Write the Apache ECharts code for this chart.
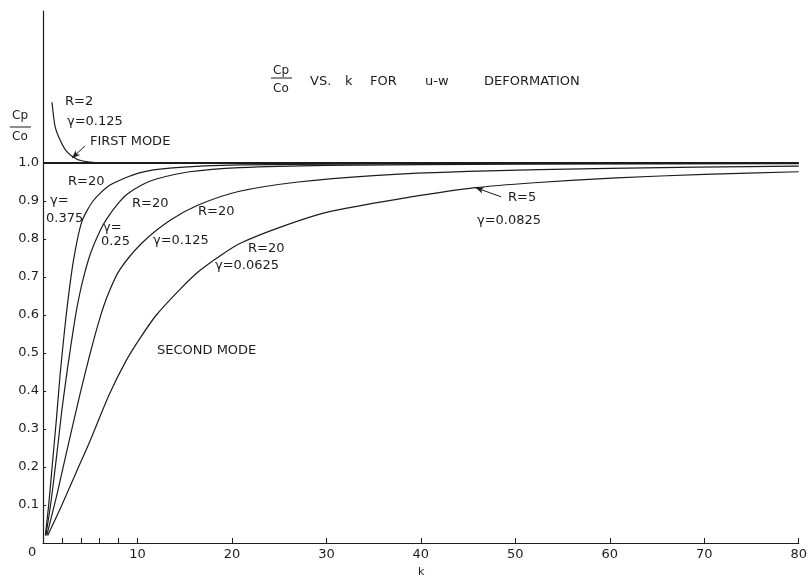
<!DOCTYPE html>
<html>
<head>
<meta charset="utf-8">
<script src="https://cdn.jsdelivr.net/npm/echarts@6/dist/echarts.min.js"></script>
<style>
  html, body { margin: 0; padding: 0; background: #fff; }
  #chart { width: 810px; height: 579px; }
</style>
</head>
<body>
<div id="chart"></div>
<script>
// axis ticks
const kTickValues = [0, 2, 4, 6, 8, 10, 20, 30, 40, 50, 60, 70, 80];
const kLabelValues = [10, 20, 30, 40, 50, 60, 70, 80];
const ratioTicks = [0.1, 0.2, 0.3, 0.4, 0.5, 0.6, 0.7, 0.8, 0.9, 1.0];

// curves, [k, Cp/Co]
const firstModeR2 = [[0.95, 1.16], [1.29, 1.095], [1.82, 1.06], [2.52, 1.03], [3.58, 1.01], [4.76, 1.003], [6, 1.0]];
const unityLine = [[0, 1.0], [80, 1.0]];
const r20g0375 = [[0.25, 0.02], [0.6, 0.1], [1, 0.21], [1.4, 0.32], [1.8, 0.44], [2.2, 0.54], [2.6, 0.63], [3.2, 0.74],
  [4.1, 0.845], [5.3, 0.9], [7.1, 0.942], [10.2, 0.974], [13.7, 0.987], [20.8, 0.995], [40, 0.998], [80, 0.999]];
const r20g025 = [[0.3, 0.02], [0.8, 0.1], [1.4, 0.22], [2, 0.35], [2.6, 0.46], [3.2, 0.56], [3.6, 0.62], [4.2, 0.69],
  [5, 0.76], [6, 0.82], [6.8, 0.855], [8, 0.895], [8.9, 0.918], [10.5, 0.943], [12, 0.958], [15.5, 0.977],
  [20.8, 0.988], [30, 0.994], [50, 0.997], [80, 0.998]];
const r20g0125 = [[0.4, 0.02], [1.5, 0.13], [2.5, 0.24], [3.9, 0.39], [5, 0.5], [6, 0.59], [6.9, 0.655], [8.1, 0.718],
  [10.5, 0.79], [13.5, 0.85], [16.5, 0.89], [20.7, 0.925], [27, 0.95], [35, 0.967], [45, 0.978], [60, 0.986], [80, 0.992]];
const r20g00625 = [[0.5, 0.02], [2, 0.1], [3.5, 0.185], [5, 0.27], [7, 0.39], [8.8, 0.48], [10.3, 0.54], [12, 0.6],
  [14.4, 0.665], [16.5, 0.715], [19, 0.76], [21, 0.79], [25, 0.83], [30, 0.87], [37.6, 0.905], [45.8, 0.935],
  [52, 0.948], [60.7, 0.961], [70, 0.97], [80, 0.977]];

// leader arrows, data coords
const firstModeArrow = [[4.45, 1.045], [3.08, 1.013]];
const r5Arrow = [[48.5, 0.911], [45.8, 0.935]];

const ink = '#1c1c1c';
const font = 'DejaVu Sans';

const chart = echarts.init(document.getElementById('chart'), null, { renderer: 'canvas' });

function curve(name, data, width, extra) {
  return Object.assign({
    name,
    type: 'line',
    data,
    smooth: 0.25,
    symbol: 'none',
    lineStyle: { color: ink, width: width },
    silent: true,
  }, extra || {});
}

function arrow(pts) {
  return {
    silent: true,
    symbol: ['none', 'arrow'],
    symbolSize: [5, 8],
    label: { show: false },
    lineStyle: { color: ink, width: 1, type: 'solid' },
    data: [[{ coord: pts[0] }, { coord: pts[1] }]],
  };
}

function txt(x, y, text, size) {
  return {
    type: 'text', left: x, top: y - (size || 13) / 2 - 1,
    style: { text, fill: ink, font: (size || 13) + 'px "' + font + '"' },
  };
}

const option = {
  backgroundColor: '#fff',
  animation: false,
  grid: { left: 43, right: 7, top: 11, bottom: 36 },
  xAxis: {
    type: 'value', min: 0, max: 80,
    axisLine: { show: true, lineStyle: { color: ink, width: 1.2 } },
    axisTick: { show: true, inside: true, length: 5, customValues: kTickValues, lineStyle: { color: ink } },
    axisLabel: { customValues: kLabelValues, color: ink, fontSize: 13, fontFamily: font, margin: 5 },
    splitLine: { show: false },
  },
  yAxis: {
    type: 'value', min: 0, max: 1.4,
    axisLine: { show: true, lineStyle: { color: ink, width: 1.2 } },
    axisTick: { show: true, inside: true, length: 3, customValues: ratioTicks, lineStyle: { color: ink } },
    axisLabel: {
      customValues: ratioTicks, color: ink, fontSize: 13, fontFamily: font, margin: 4,
      formatter: (v) => v.toFixed(1),
    },
    splitLine: { show: false },
  },
  series: [
    curve('unity', unityLine, 1.8),
    curve('R=2, γ=0.125 first mode', firstModeR2, 1.2, { markLine: arrow(firstModeArrow) }),
    curve('R=20, γ=0.375', r20g0375, 1.2),
    curve('R=20, γ=0.25', r20g025, 1.2),
    curve('R=20, γ=0.125', r20g0125, 1.2),
    curve('R=20, γ=0.0625 / R=5', r20g00625, 1.2, { markLine: arrow(r5Arrow) }),
  ],
  graphic: [
    // title
    txt(273, 72, 'Cp', 12),
    { type: 'line', shape: { x1: 271, y1: 78, x2: 292, y2: 78 }, style: { stroke: ink, lineWidth: 1 } },
    txt(273, 90, 'Co', 12),
    txt(310, 83, 'VS.'),
    txt(345, 83, 'k'),
    txt(370, 83, 'FOR'),
    txt(425, 83, 'u-w'),
    txt(484, 83, 'DEFORMATION'),
    // y axis name
    txt(12, 117, 'Cp', 12),
    { type: 'line', shape: { x1: 10, y1: 127, x2: 31, y2: 127 }, style: { stroke: ink, lineWidth: 1 } },
    txt(12, 138, 'Co', 12),
    // origin and x axis name
    txt(28, 554, '0'),
    txt(418, 573, 'k', 11),
    // curve notes
    txt(65, 103, 'R=2'),
    txt(67, 123, 'γ=0.125'),
    txt(90, 143, 'FIRST MODE'),
    txt(68, 183, 'R=20'),
    txt(50, 202, 'γ='),
    txt(46, 220, '0.375'),
    txt(132, 205, 'R=20'),
    txt(103, 229, 'γ='),
    txt(101, 243, '0.25'),
    txt(198, 213, 'R=20'),
    txt(153, 242, 'γ=0.125'),
    txt(248, 250, 'R=20'),
    txt(215, 267, 'γ=0.0625'),
    txt(508, 199, 'R=5'),
    txt(477, 222, 'γ=0.0825'),
    txt(157, 352, 'SECOND MODE'),
  ],
};

chart.setOption(option);
</script>
</body>
</html>
